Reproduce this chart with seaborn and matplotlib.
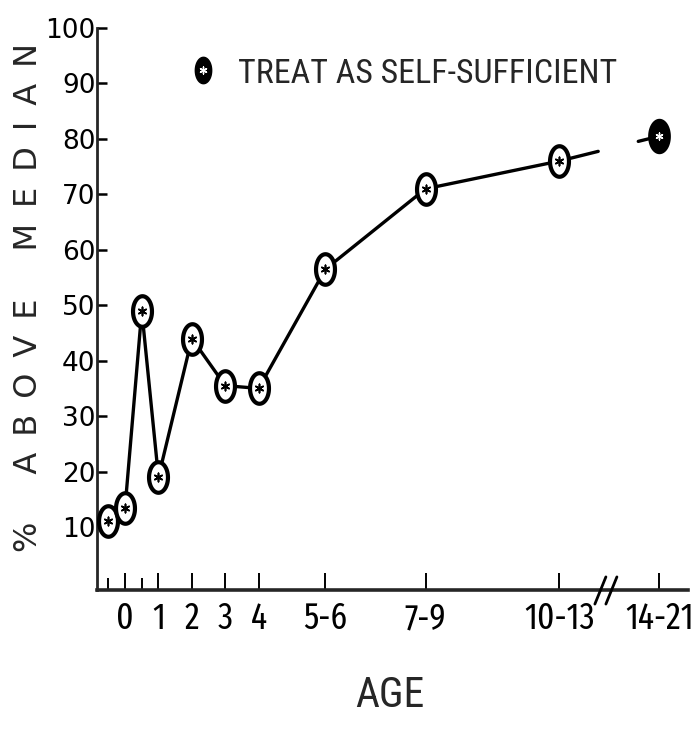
import numpy as np
import matplotlib
matplotlib.use("Agg")
import matplotlib.pyplot as plt
from matplotlib import font_manager
from matplotlib.path import Path
import seaborn as sns

# Age groups on the horizontal axis
tick_pos = [0, 1, 2, 3, 4, 6, 9, 13, 16]
tick_labels = ["0", "1", "2", "3", "4", "5-6", "7-9", "10-13", "14-21"]
half_year_ticks = [-0.5, 0.5]

# Percent above median for each age point
age_pos = [-0.5, 0, 0.5, 1, 2, 3, 4, 6, 9, 13, 16]
pct_above = [11, 13.5, 49, 19, 44, 35.5, 35, 56.5, 71, 76, 80.5]

y_ticks = [10, 20, 30, 40, 50, 60, 70, 80, 90, 100]
y_tick_labels = ["10", "20", "30", "40", "50", "60", "70", "80", "90", "100"]

legend_label = "TREAT AS SELF-SUFFICIENT"
x_title = "AGE"
y_title = "% ABOVE MEDIAN"

sns.set_style("ticks")
plt.rcParams["font.family"] = ["DejaVu Sans"]

ALL_NAMES = {f.name for f in font_manager.fontManager.ttflist}


def first_family(candidates, default):
    for cand in candidates:
        if cand in ALL_NAMES:
            return cand
    return default


NARROW = first_family(["Roboto Condensed", "PT Sans Narrow", "Open Sans Condensed"],
                      "DejaVu Sans")
TIGHT = first_family(["Fira Sans Extra Condensed", "Saira ExtraCondensed",
                      "Sofia Sans Extra Condensed"], NARROW)

fig = plt.figure(figsize=(6.94, 7.30), dpi=100)
ax = fig.add_axes([0.1398, 0.1918, 0.8516, 0.7698])
ax.set_xlim(-0.84, 16.86)
ax.set_ylim(-1.36, 100)

# connecting line; the last leg is interrupted at the axis break
sns.lineplot(x=age_pos[:10], y=pct_above[:10], color="black", linewidth=2.4,
             ax=ax, legend=False)
x0, x1 = age_pos[9], age_pos[10]
y0, y1 = pct_above[9], pct_above[10]
for t0, t1 in [(0.0, 0.39), (0.79, 1.0)]:
    ax.plot([x0 + t0 * (x1 - x0), x0 + t1 * (x1 - x0)],
            [y0 + t0 * (y1 - y0), y0 + t1 * (y1 - y0)],
            color="black", linewidth=2.4, solid_capstyle="round")

# oval point symbol
theta = np.linspace(0, 2 * np.pi, 73)
oval = Path(np.column_stack([0.62 * np.cos(theta), np.sin(theta)]), closed=True)

sns.scatterplot(x=age_pos[:10], y=pct_above[:10], marker=oval, s=22 ** 2,
                facecolor="white", edgecolor="black", linewidth=3.0,
                ax=ax, zorder=4, legend=False)
sns.scatterplot(x=age_pos[10:], y=pct_above[10:], marker=oval, s=24 ** 2,
                facecolor="black", edgecolor="black", linewidth=1.5,
                ax=ax, zorder=4, legend=False)
ax.scatter(age_pos[:10], pct_above[:10], marker=(6, 2, 0), s=6 ** 2,
           color="black", linewidths=1.2, zorder=5)
ax.scatter(age_pos[10:], pct_above[10:], marker=(6, 2, 0), s=5 ** 2,
           color="white", linewidths=1.0, zorder=5)

# axes styling
for side in ["top", "right"]:
    ax.spines[side].set_visible(False)
ax.spines["left"].set_linewidth(2.0)
ax.spines["bottom"].set_linewidth(2.6)

ax.set_yticks(y_ticks)
ax.set_yticklabels(y_tick_labels)
ax.tick_params(axis="y", direction="in", length=7, width=1.8, pad=1,
               labelsize=19, colors="black")

ax.set_xticks(tick_pos)
ax.set_xticklabels(tick_labels, fontfamily=TIGHT, fontsize=26)
ax.set_xticks(half_year_ticks, minor=True)
ax.tick_params(axis="x", which="major", direction="in", length=12, width=1.4,
               pad=8, colors="black")
ax.tick_params(axis="x", which="minor", direction="in", length=9, width=1.4,
               colors="black")

# axis break marks
for bx in [14.07, 14.4]:
    ax.plot([bx, bx + 0.33], [-3.9, 1.0], color="black", linewidth=2.0,
            clip_on=False, zorder=6)

# legend key
ax.scatter([0.1794], [0.9253], marker=oval, s=19 ** 2, color="black",
           transform=ax.transAxes, clip_on=False, zorder=6)
ax.scatter([0.1794], [0.9253], marker=(6, 2, 0), s=5 ** 2, color="white",
           linewidths=1.0, transform=ax.transAxes, clip_on=False, zorder=7)
ax.text(0.2386, 0.902, legend_label, transform=ax.transAxes, ha="left",
        va="baseline", fontfamily=NARROW, fontsize=24.5)

ax.set_xlabel("")
ax.set_ylabel("")
fig.text(390 / 694, 1 - 707 / 730, x_title, ha="center", va="baseline",
         fontfamily=NARROW, fontsize=30)

spaced = "\u2002".join(y_title.replace(" ", "\u2002"))
fig.text(37 / 694, 1 - 298 / 730, spaced, rotation=90, rotation_mode="anchor",
         ha="center", va="baseline", fontsize=23)

fig.savefig("out.png", dpi=100, facecolor="white")
